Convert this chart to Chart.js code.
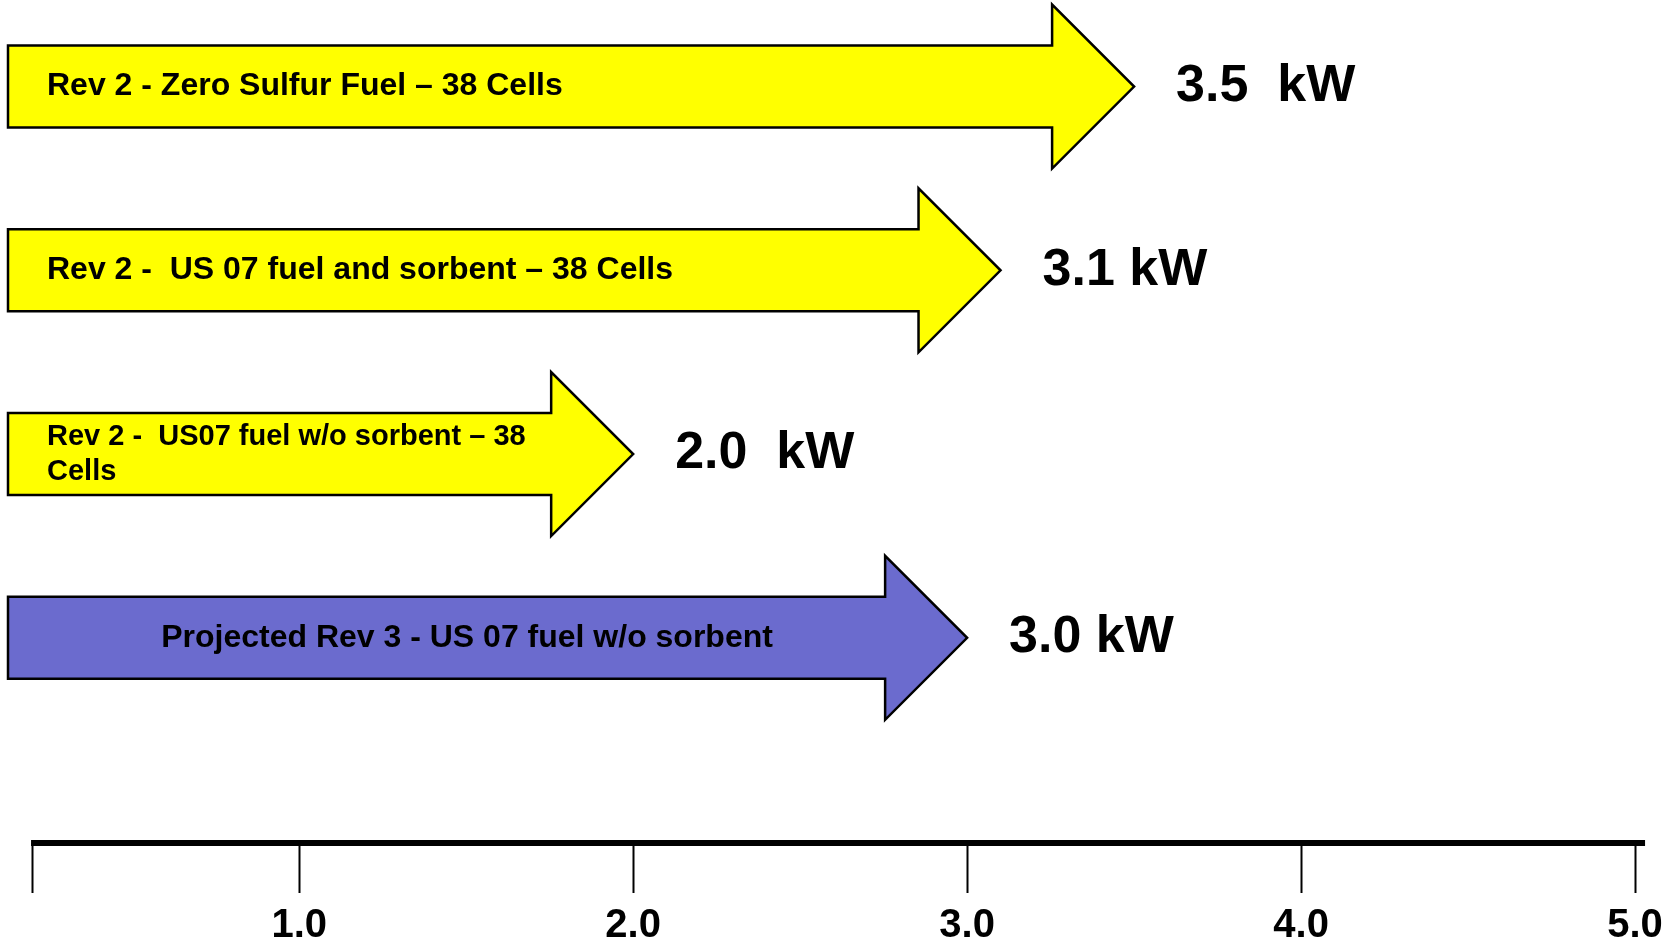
<!DOCTYPE html>
<html>
<head>
<meta charset="utf-8">
<script src="https://cdn.jsdelivr.net/npm/chart.js@4.4.1/dist/chart.umd.min.js"></script>
<style>
  html, body { margin: 0; padding: 0; background: #fff; }
  #chart { display: block; }
</style>
</head>
<body>
<canvas id="chart" width="1676" height="938"></canvas>
<script>
// Power output per configuration (kW)
const rowLabels = [
    ["Rev 2 - Zero Sulfur Fuel \u2013 38 Cells"],
    ["Rev 2 -  US 07 fuel and sorbent \u2013 38 Cells"],
    ["Rev 2 -  US07 fuel w/o sorbent \u2013 38", "Cells"],
    ["Projected Rev 3 - US 07 fuel w/o sorbent"]
];
const powerKW = [3.5, 3.1, 2.0, 3.0];
const valueLabels = ["3.5  kW", "3.1 kW", "2.0  kW", "3.0 kW"];
const projected = [false, false, false, true];

// Axis
const xMin = 0.128;
const xMax = 5.03;
const axisStart = 0.2;
const tickValues = [1, 2, 3, 4, 5];
const tickLabels = ["1.0", "2.0", "3.0", "4.0", "5.0"];

// styling
const FONT = "'Liberation Sans', Arial, sans-serif";
const YELLOW = "#FFFF00";
const PURPLE = "#6B6BCE";
const labelFontSize = [32, 32, 29, 32];

// draw each bar as a block arrow, using the bar element geometry
const arrowPlugin = {
    id: "arrows",
    beforeDatasetsDraw(chart) {
        const ctx = chart.ctx;
        const meta = chart.getDatasetMeta(0);
        meta.data.forEach((bar, i) => {
            const p = bar.getProps(["x", "y", "base", "height"], true);
            const h = p.height;
            const tip = p.x, base = p.base, y = p.y;
            const neck = tip - h;

            ctx.save();
            ctx.beginPath();
            ctx.moveTo(base, y - h / 2);
            ctx.lineTo(neck, y - h / 2);
            ctx.lineTo(neck, y - h);
            ctx.lineTo(tip, y);
            ctx.lineTo(neck, y + h);
            ctx.lineTo(neck, y + h / 2);
            ctx.lineTo(base, y + h / 2);
            ctx.closePath();
            ctx.fillStyle = bar.options.backgroundColor;
            ctx.fill();
            ctx.lineWidth = 2.5;
            ctx.strokeStyle = "#000";
            ctx.lineJoin = "miter";
            ctx.stroke();

            // text inside the arrow
            ctx.fillStyle = "#000";
            ctx.font = "bold " + labelFontSize[i] + "px " + FONT;
            ctx.textBaseline = "middle";
            const lines = rowLabels[i];
            const lh = 35;
            const y0 = y - (lines.length - 1) * lh / 2;
            lines.forEach((t, k) => {
                if (projected[i]) {
                    ctx.textAlign = "center";
                    ctx.fillText(t, (base + neck + h / 2) / 2, y0 + k * lh);
                } else {
                    ctx.textAlign = "left";
                    ctx.fillText(t, base + 39, y0 + k * lh);
                }
            });

            // value at the tip
            ctx.font = "bold 52px " + FONT;
            ctx.textAlign = "left";
            ctx.fillText(valueLabels[i], tip + 42, y);
            ctx.restore();
        });
        return false;
    },
    afterDraw(chart) {
        const ctx = chart.ctx;
        const xs = chart.scales.x;
        const area = chart.chartArea;
        ctx.save();
        ctx.strokeStyle = "#000";
        ctx.lineWidth = 6;
        ctx.beginPath();
        ctx.moveTo(xs.getPixelForValue(axisStart) - 1, area.bottom);
        ctx.lineTo(area.right, area.bottom);
        ctx.stroke();
        ctx.restore();
    }
};

new Chart(document.getElementById("chart"), {
    type: "bar",
    data: {
        datasets: [{
            data: powerKW.map((v, i) => ({ x: v, y: i })),
            backgroundColor: projected.map(p => p ? PURPLE : YELLOW),
            base: xMin,
            barThickness: 82
        }]
    },
    options: {
        indexAxis: "y",
        responsive: false,
        animation: false,
        layout: { padding: { left: 8, right: 26, top: 0, bottom: -21 } },
        plugins: { legend: { display: false }, tooltip: { enabled: false } },
        scales: {
            y: {
                type: "linear",
                reverse: true,
                offset: false,
                min: -0.471,
                max: 4.117,
                display: false
            },
            x: {
                type: "linear",
                min: xMin,
                max: xMax,
                afterBuildTicks(scale) {
                    scale.ticks = [axisStart].concat(tickValues).map(v => ({ value: v }));
                },
                grid: {
                    drawOnChartArea: false,
                    drawTicks: true,
                    tickLength: 50,
                    tickWidth: 2,
                    tickColor: "#000"
                },
                border: { display: false },
                ticks: {
                    autoSkip: false,
                    maxRotation: 0,
                    padding: 13,
                    color: "#000",
                    font: { family: FONT, size: 40, weight: "bold", lineHeight: 1 },
                    callback(value) {
                        const k = tickValues.indexOf(value);
                        return k >= 0 ? tickLabels[k] : "";
                    }
                }
            }
        }
    },
    plugins: [arrowPlugin]
});
</script>
</body>
</html>
